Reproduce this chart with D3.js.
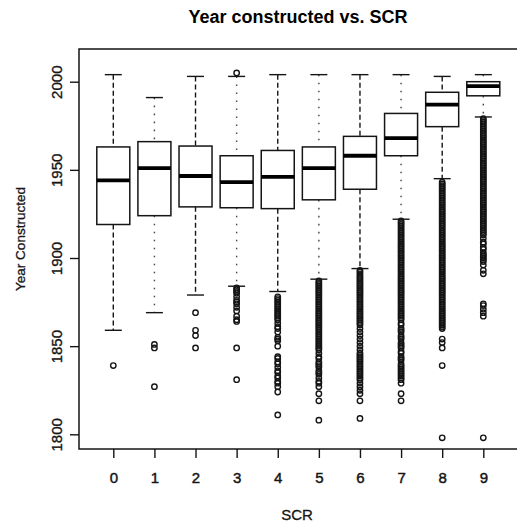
<!DOCTYPE html>
<html>
<head>
<meta charset="utf-8">
<script src="https://cdn.jsdelivr.net/npm/d3@7"></script>
<style>
  html, body { margin: 0; padding: 0; background: #fff; }
  svg { display: block; font-family: "Liberation Sans", Arial, Helvetica, sans-serif; }
</style>
</head>
<body>
<svg id="chart" width="517" height="525"></svg>
<script>
// Year built per SCR class: box statistics and outlying values
const categories  = ["0", "1", "2", "3", "4", "5", "6", "7", "8", "9"];
const whiskerLow  = [1859, 1869, 1879, 1884, 1881, 1888, 1894, 1922, 1945, 1980];
const q1          = [1919, 1924, 1929, 1928.5, 1928, 1933, 1939, 1958, 1974.5, 1992];
const medians     = [1944, 1951, 1946.5, 1943, 1946, 1951, 1958, 1968, 1987, 1997.5];
const q3          = [1963, 1966, 1963.5, 1958, 1961, 1963, 1969, 1982, 1994, 2000];
const whiskerHigh = [2004, 1991, 2003, 2003, 2004, 2004, 2004, 2004, 2003, 2004];

const outliers0 = [1839];
const outliers1 = [1851, 1849, 1827];
const outliers2 = [1869, 1859, 1856, 1849];
const outliers3 = [2005, 1883, 1882, 1881, 1880, 1878, 1876, 1875, 1874, 1872, 1870, 1867, 1865, 1864, 1849, 1831];
const outliers4 = [1878, 1877, 1876, 1875, 1874, 1873, 1872, 1871, 1870, 1869, 1868, 1867, 1866, 1865,
  1863, 1861, 1860, 1858, 1855, 1854, 1853, 1850, 1844, 1843, 1841, 1840, 1838, 1836, 1835, 1833,
  1832, 1830, 1829, 1827, 1824, 1811];
const outliers5 = [1887, 1886, 1885, 1884, 1883, 1882, 1881, 1880, 1879, 1878, 1877, 1876, 1875, 1874,
  1873, 1872, 1871, 1870, 1869, 1868, 1867, 1866, 1865, 1864, 1863, 1862, 1861, 1860, 1859, 1858,
  1857, 1856, 1855, 1854, 1853, 1852, 1851, 1850, 1849, 1848, 1846, 1844, 1843, 1841, 1840, 1839,
  1838, 1836, 1835, 1834, 1832, 1830, 1829, 1827, 1823, 1819, 1808];
const outliers6 = [1893, 1892, 1891, 1890, 1889, 1888, 1887, 1886, 1885, 1884, 1883, 1882, 1881, 1880,
  1879, 1878, 1877, 1876, 1875, 1874, 1873, 1872, 1871, 1870, 1869, 1868, 1867, 1866, 1865, 1864,
  1863, 1862, 1860, 1858, 1856, 1854, 1852, 1850, 1848, 1846, 1845, 1844, 1843, 1842, 1841, 1840,
  1839, 1838, 1837, 1836, 1835, 1834, 1833, 1832, 1831, 1829, 1827, 1825, 1823, 1819, 1809];
const outliers7 = [1921, 1920, 1919, 1918, 1917, 1916, 1915, 1914, 1913, 1912, 1911, 1910, 1909, 1908,
  1907, 1906, 1905, 1904, 1903, 1902, 1901, 1900, 1899, 1898, 1897, 1896, 1895, 1894, 1893, 1892,
  1891, 1890, 1889, 1888, 1887, 1886, 1885, 1884, 1883, 1882, 1881, 1880, 1879, 1878, 1877, 1876,
  1875, 1874, 1873, 1872, 1871, 1870, 1869, 1868, 1867, 1866, 1865, 1863, 1862, 1860, 1859, 1858,
  1856, 1855, 1854, 1852, 1851, 1850, 1849, 1847, 1846, 1844, 1843, 1842, 1840, 1839, 1838, 1837,
  1836, 1835, 1834, 1833, 1832, 1831, 1829, 1823, 1819];
const outliers8 = [1943, 1942, 1941, 1940, 1939, 1938, 1937, 1936, 1935, 1934, 1933, 1932, 1931, 1930,
  1929, 1928, 1927, 1926, 1925, 1924, 1923, 1922, 1921, 1920, 1919, 1918, 1917, 1916, 1915, 1914,
  1913, 1912, 1911, 1910, 1909, 1908, 1907, 1906, 1905, 1904, 1903, 1902, 1901, 1900, 1899, 1898,
  1897, 1896, 1895, 1894, 1893, 1892, 1891, 1890, 1889, 1888, 1887, 1886, 1885, 1884, 1883, 1882,
  1881, 1880, 1879, 1878, 1877, 1876, 1875, 1874, 1873, 1872, 1871, 1870, 1869, 1868, 1867, 1866,
  1865, 1864, 1863, 1862, 1861, 1860, 1854, 1852, 1849, 1839, 1798];
const outliers9 = [1979, 1978, 1977, 1976, 1975, 1974, 1973, 1972, 1971, 1970, 1969, 1968, 1967, 1966,
  1965, 1964, 1963, 1962, 1961, 1960, 1959, 1958, 1957, 1956, 1955, 1954, 1953, 1952, 1951, 1950,
  1949, 1948, 1947, 1946, 1945, 1944, 1943, 1942, 1941, 1940, 1939, 1938, 1937, 1936, 1935, 1934,
  1933, 1932, 1931, 1930, 1929, 1928, 1927, 1926, 1925, 1924, 1923, 1922, 1921, 1920, 1919, 1918,
  1917, 1916, 1915, 1914, 1913, 1911, 1909, 1908, 1906, 1905, 1903, 1902, 1901, 1900, 1899, 1898,
  1896, 1893, 1891, 1874, 1873, 1871, 1869, 1867, 1798];
const outliers = [outliers0, outliers1, outliers2, outliers3, outliers4,
                  outliers5, outliers6, outliers7, outliers8, outliers9];

const yTicks = [1800, 1850, 1900, 1950, 2000];

const titleText = "Year constructed vs. SCR";
const xTitle = "SCR";
const yTitle = "Year Constructed";

// ---- layout ----
const svg = d3.select("#chart");
const plot = { left: 79, top: 49, right: 521, bottom: 449 };
const ink = "#151515";
const labelFont = "'Liberation Sans', Arial, sans-serif";

const x = d3.scalePoint().domain(categories).range([113.3, 483.3]);
const y = d3.scaleLinear().domain([1800, 2000]).range([434.3, 81.7]);
const boxW = 33;
const capW = 17;

const groups = categories.map((c, i) => ({
  cat: c, lo: whiskerLow[i], q1: q1[i], med: medians[i], q3: q3[i], hi: whiskerHigh[i],
  out: outliers[i], i
}));

// frame around plotting region
svg.append("rect")
  .attr("x", plot.left).attr("y", plot.top)
  .attr("width", plot.right - plot.left).attr("height", plot.bottom - plot.top)
  .attr("fill", "none").attr("stroke", ink).attr("stroke-width", 1.5);

const g = svg.append("g").selectAll("g.box").data(groups).join("g").attr("class", "box");

// whiskers (dashed)
const dashFor = d => d.i % 2 ? "1.6,6.4" : "5,3";
const dashColor = d => d.i % 2 ? "#444" : ink;
g.append("line")
  .attr("x1", d => x(d.cat)).attr("x2", d => x(d.cat))
  .attr("y1", d => y(d.hi)).attr("y2", d => y(d.q3))
  .attr("stroke", dashColor).attr("stroke-width", 1.4).attr("stroke-dasharray", dashFor);
g.append("line")
  .attr("x1", d => x(d.cat)).attr("x2", d => x(d.cat))
  .attr("y1", d => y(d.q1)).attr("y2", d => y(d.lo))
  .attr("stroke", dashColor).attr("stroke-width", 1.4).attr("stroke-dasharray", dashFor);

// whisker caps
g.selectAll("line.cap").data(d => [d.hi, d.lo].map(v => ({ cat: d.cat, v })))
  .join("line").attr("class", "cap")
  .attr("x1", d => x(d.cat) - capW / 2).attr("x2", d => x(d.cat) + capW / 2)
  .attr("y1", d => y(d.v)).attr("y2", d => y(d.v))
  .attr("stroke", ink).attr("stroke-width", 1.4);

// boxes
g.append("rect")
  .attr("x", d => x(d.cat) - boxW / 2).attr("width", boxW)
  .attr("y", d => y(d.q3)).attr("height", d => y(d.q1) - y(d.q3))
  .attr("fill", "none").attr("stroke", ink).attr("stroke-width", 1.5);

// medians
g.append("line")
  .attr("x1", d => x(d.cat) - boxW / 2).attr("x2", d => x(d.cat) + boxW / 2)
  .attr("y1", d => y(d.med)).attr("y2", d => y(d.med))
  .attr("stroke", "#000").attr("stroke-width", 3.8);

// outlying points
g.selectAll("circle").data(d => d.out.map(v => ({ cat: d.cat, v })))
  .join("circle")
  .attr("cx", d => x(d.cat)).attr("cy", d => y(d.v)).attr("r", 2.7)
  .attr("fill", "none").attr("stroke", ink).attr("stroke-width", 1.4);

// y axis
const yAxis = svg.append("g")
  .attr("transform", `translate(${plot.left},0)`)
  .call(d3.axisLeft(y).tickValues(yTicks).tickSize(9).tickFormat(d3.format("d")));
yAxis.select(".domain").remove();
yAxis.selectAll(".tick line").attr("stroke", ink).attr("stroke-width", 1.4);
yAxis.selectAll(".tick text")
  .attr("transform", "rotate(-90)")
  .attr("x", 0).attr("y", -17).attr("dy", null)
  .attr("text-anchor", "middle")
  .attr("fill", ink).attr("stroke", ink).attr("stroke-width", 0.35)
  .style("font-size", "15px")
  .style("font-family", labelFont);

// x axis
const xAxis = svg.append("g")
  .attr("transform", `translate(0,${plot.bottom})`)
  .call(d3.axisBottom(x).tickSize(9));
xAxis.select(".domain").remove();
xAxis.selectAll(".tick line").attr("stroke", ink).attr("stroke-width", 1.4);
xAxis.selectAll(".tick text")
  .attr("y", 34).attr("dy", null)
  .attr("fill", ink).attr("stroke", ink).attr("stroke-width", 0.45)
  .style("font-size", "15px")
  .style("font-family", labelFont);

// titles
svg.append("text")
  .attr("x", 298).attr("y", 23)
  .attr("text-anchor", "middle")
  .attr("font-weight", "bold").attr("font-size", 18).attr("fill", "#000")
  .text(titleText);

svg.append("text")
  .attr("x", 297).attr("y", 520)
  .attr("text-anchor", "middle")
  .attr("font-size", 15).attr("fill", ink).attr("stroke", ink).attr("stroke-width", 0.3)
  .text(xTitle);

svg.append("text")
  .attr("transform", "translate(25,239) rotate(-90)")
  .attr("text-anchor", "middle")
  .attr("font-size", 13.5).attr("fill", ink).attr("stroke", ink).attr("stroke-width", 0.3)
  .text(yTitle);
</script>
</body>
</html>
